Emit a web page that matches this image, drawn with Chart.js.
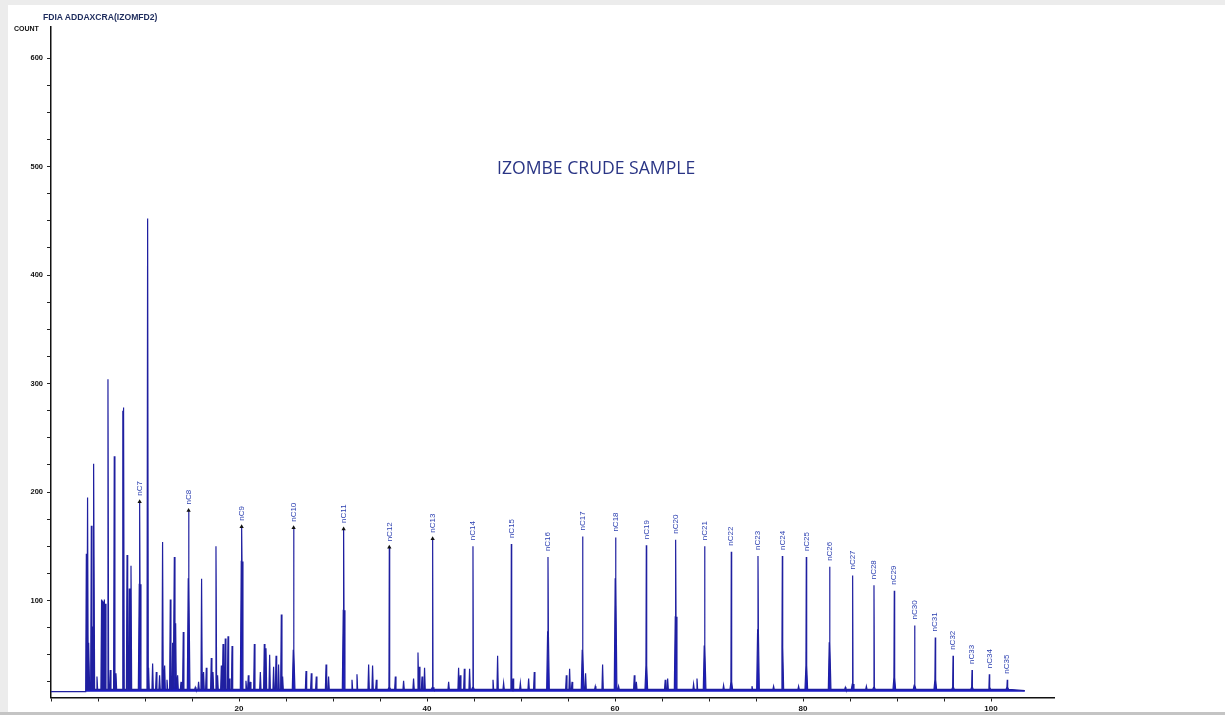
<!DOCTYPE html>
<html>
<head>
<meta charset="utf-8">
<title>IZOMBE CRUDE SAMPLE</title>
<script src="https://cdn.jsdelivr.net/npm/chart.js@4.4.1/dist/chart.umd.min.js"></script>
<style>
    html, body { margin: 0; padding: 0; background: #fff; }
    #wrap { position: relative; width: 1225px; height: 715px; overflow: hidden; background: #fff; }
    .strip { position: absolute; background: #ececec; }
    canvas { position: absolute; left: 0; top: 0; }
    .txt { position: absolute; white-space: nowrap; font-family: "Liberation Sans", Arial, sans-serif; }
</style>
</head>
<body>
<div id="wrap">
    <div class="strip" style="left:0;top:0;width:1225px;height:5px"></div>
    <div class="strip" style="left:0;top:0;width:8px;height:715px"></div>
    <div class="strip" style="left:0;top:712px;width:1225px;height:3px;background:#c4c4c4"></div>
    <canvas id="chart1" width="1225" height="715"></canvas>
    <div class="txt" style="left:43px;top:12px;font-size:8.6px;font-weight:bold;color:#1d2b5c">FDIA ADDAXCRA(IZOMFD2)</div>
    <div class="txt" style="left:14px;top:25px;font-size:7px;font-weight:bold;color:#111">COUNT</div>
    <div class="txt" style="left:497px;top:155px;font-size:17.6px;font-family:'Open Sans';color:#2a3585">IZOMBE CRUDE SAMPLE</div>
</div>
<script>
// n-alkane peaks (retention time in min, count at apex, count of the broader base)
var alkaneLabels = ['nC7', 'nC8', 'nC9', 'nC10', 'nC11', 'nC12', 'nC13', 'nC14', 'nC15', 'nC16',
    'nC17', 'nC18', 'nC19', 'nC20', 'nC21', 'nC22', 'nC23', 'nC24', 'nC25', 'nC26',
    'nC27', 'nC28', 'nC29', 'nC30', 'nC31', 'nC32', 'nC33', 'nC34', 'nC35'];
var alkaneTimes = [9.43, 14.64, 20.28, 25.81, 31.13, 35.99, 40.6, 44.89, 48.97, 52.87,
    56.55, 60.06, 63.33, 66.45, 69.53, 72.37, 75.21, 77.8, 80.35, 82.83,
    85.28, 87.55, 89.71, 91.87, 94.07, 95.96, 97.98, 99.82, 101.73];
var alkaneCounts = [191, 183, 168, 167, 166, 149, 157, 150, 152, 140,
    159, 158, 151, 156, 150, 145, 141, 141, 140, 131,
    123, 114, 109, 77, 66, 49, 36, 32, 27];
var alkaneShoulders = [115, 120, 136, 54, 91, 20, 20, 20, 20, 71,
    54, 120, 40, 85, 58, 25, 73, 57, 40, 61,
    23, 20, 29, 22, 27, 20, 20, 20, 20];

// other (unlabelled) peaks
var otherTimes = [3.76, 3.89, 4.04, 4.29, 4.43, 4.57, 4.89,
    5.38, 5.48, 5.58, 5.68, 5.78,
    6.06, 6.31, 6.73, 6.91,
    7.64, 7.72, 8.09, 8.33, 8.51,
    10.28, 10.38, 10.81, 11.2, 11.55, 11.87, 12.09, 12.34, 12.69, 12.94, 13.12, 13.26, 13.47, 13.83, 14.07,
    15.35, 15.7, 16.02, 16.23, 16.52, 17.05, 17.23, 17.55, 17.72, 18.12, 18.3, 18.54, 18.83, 18.97, 19.26,
    20.74, 20.99, 21.2, 21.63, 22.27, 22.69, 22.87, 23.26, 23.68, 23.94, 24.21, 24.5, 24.64,
    27.13, 27.69, 28.22, 29.26, 29.53,
    32.02, 32.55, 33.79, 34.21, 34.61,
    36.63, 37.51, 38.57, 39.04, 39.18, 39.47, 39.74,
    42.3, 43.36, 43.54, 43.97, 44.53,
    47.02, 47.51, 48.15,
    49.15, 49.93, 50.81, 51.41,
    54.82, 55.17, 55.43,
    56.87, 57.9, 58.68,
    60.38, 62.05, 62.27,
    65.34, 65.6,
    68.36, 68.72,
    71.55, 74.57, 76.87, 79.53, 84.5, 86.74];
var otherCounts = [143, 195, 61, 169, 76, 226, 30,
    101, 100, 99, 101, 97,
    304, 36, 233, 33,
    275, 278, 142, 111, 132,
    452, 38, 42, 34, 31, 154, 40, 27, 101, 61, 140, 79, 31, 25, 71,
    20, 25, 120, 34, 38, 47, 34, 150, 31, 40, 60, 65, 67, 28, 58,
    26, 31, 25, 60, 34, 60, 56, 50, 39, 49, 41, 87, 30,
    35, 33, 30, 41, 30,
    27, 32, 41, 40, 27,
    30, 26, 28, 52, 39, 30, 38,
    25, 38, 31, 37, 37,
    27, 49, 24,
    28, 24, 28, 34,
    31, 37, 25,
    33, 21, 41,
    21, 31, 25,
    27, 28,
    23, 28,
    22, 21, 21, 21, 20, 21];

var startBaseline = 16;   // flat signal before the first peak
var baseline = 18;        // signal level between peaks
var runStart = 3.62;
var runEnd = 103.6;
var endBaseline = 17;

// build the trace from the peak lists
var peaks = [];
alkaneTimes.forEach(function (t, i) {
    peaks.push({ t: t, h: alkaneCounts[i], s: alkaneShoulders[i] });
});
otherTimes.forEach(function (t, i) {
    peaks.push({ t: t, h: otherCounts[i], s: 0 });
});
peaks.sort(function (a, b) { return a.t - b.t; });

var trace = [{ x: 0, y: startBaseline }, { x: runStart, y: startBaseline }];
peaks.forEach(function (p) {
    if (p.s > baseline) {
        trace.push({ x: p.t - 0.14, y: baseline });
        trace.push({ x: p.t - 0.04, y: p.s });
        trace.push({ x: p.t, y: p.h });
        trace.push({ x: p.t + 0.04, y: p.s });
        trace.push({ x: p.t + 0.14, y: baseline });
    } else {
        trace.push({ x: p.t - 0.07, y: baseline });
        trace.push({ x: p.t, y: p.h });
        trace.push({ x: p.t + 0.07, y: baseline });
    }
});
trace.push({ x: runEnd, y: endBaseline });

// small arrow marks on the first labelled peaks
var markers = alkaneTimes.slice(0, 7).map(function (t, i) {
    return { x: t, y: alkaneCounts[i] };
});

// rotated n-alkane names above each apex
var peakLabels = {
    id: 'peakLabels',
    afterDatasetsDraw: function (chart) {
        var ctx = chart.ctx;
        var xs = chart.scales.x, ys = chart.scales.y;
        ctx.save();
        ctx.font = '8px "Liberation Sans", Arial, sans-serif';
        ctx.fillStyle = '#2b3fb0';
        ctx.textAlign = 'left';
        ctx.textBaseline = 'middle';
        alkaneLabels.forEach(function (lab, i) {
            var px = xs.getPixelForValue(alkaneTimes[i]);
            var py = ys.getPixelForValue(alkaneCounts[i]);
            ctx.save();
            ctx.translate(px, py - 6);
            ctx.rotate(-Math.PI / 2);
            ctx.fillText(lab, 0, 0);
            ctx.restore();
        });
        ctx.restore();
    }
};

document.addEventListener('DOMContentLoaded', function () {
    var ctx = document.getElementById('chart1').getContext('2d');
    new Chart(ctx, {
        type: 'line',
        data: {
            datasets: [{
                data: trace,
                borderColor: '#1f1fa0',
                backgroundColor: '#1c1cc4',
                borderWidth: 1.2,
                pointRadius: 0,
                tension: 0,
                fill: { target: { value: startBaseline } },
                order: 2
            }, {
                data: markers,
                showLine: false,
                pointStyle: 'triangle',
                pointRadius: 2.5,
                backgroundColor: '#111',
                borderColor: '#111',
                borderWidth: 0,
                order: 1
            }]
        },
        options: {
            responsive: false,
            animation: false,
            devicePixelRatio: 1,
            layout: { padding: { left: 0, top: 27, right: 171, bottom: 0 } },
            plugins: {
                legend: { display: false },
                tooltip: { enabled: false }
            },
            scales: {
                x: {
                    type: 'linear',
                    min: 0,
                    max: 106.7,
                    afterBuildTicks: function (axis) {
                        axis.ticks = axis.ticks.filter(function (t) { return Math.abs(t.value % 5) < 1e-6; });
                    },
                    afterFit: function (scale) { scale.height = 17.5; },
                    ticks: {
                        stepSize: 5,
                        autoSkip: false,
                        maxRotation: 0,
                        padding: 2,
                        color: '#111',
                        font: { size: 8, weight: 'bold', family: '"Liberation Sans", Arial, sans-serif' },
                        callback: function (v) { return (v > 0 && v % 20 === 0) ? v : ''; }
                    },
                    grid: { drawOnChartArea: false, drawTicks: true, tickLength: 4, tickColor: '#222' },
                    border: { color: '#111', width: 1.5 }
                },
                y: {
                    min: 10.6,
                    max: 628.6,
                    afterBuildTicks: function (axis) {
                        axis.ticks = axis.ticks.filter(function (t) { return Math.abs(t.value % 25) < 1e-6; });
                    },
                    afterFit: function (scale) { scale.width = 51; },
                    ticks: {
                        stepSize: 25,
                        autoSkip: false,
                        padding: 4,
                        color: '#111',
                        font: { size: 7.5, weight: 'bold', family: '"Liberation Sans", Arial, sans-serif' },
                        callback: function (v) { return (v % 100 === 0) ? v : ''; }
                    },
                    grid: { drawOnChartArea: false, drawTicks: true, tickLength: 4, tickColor: '#222' },
                    border: { color: '#111', width: 1.5 }
                }
            }
        },
        plugins: [peakLabels]
    });
});
</script>
</body>
</html>
